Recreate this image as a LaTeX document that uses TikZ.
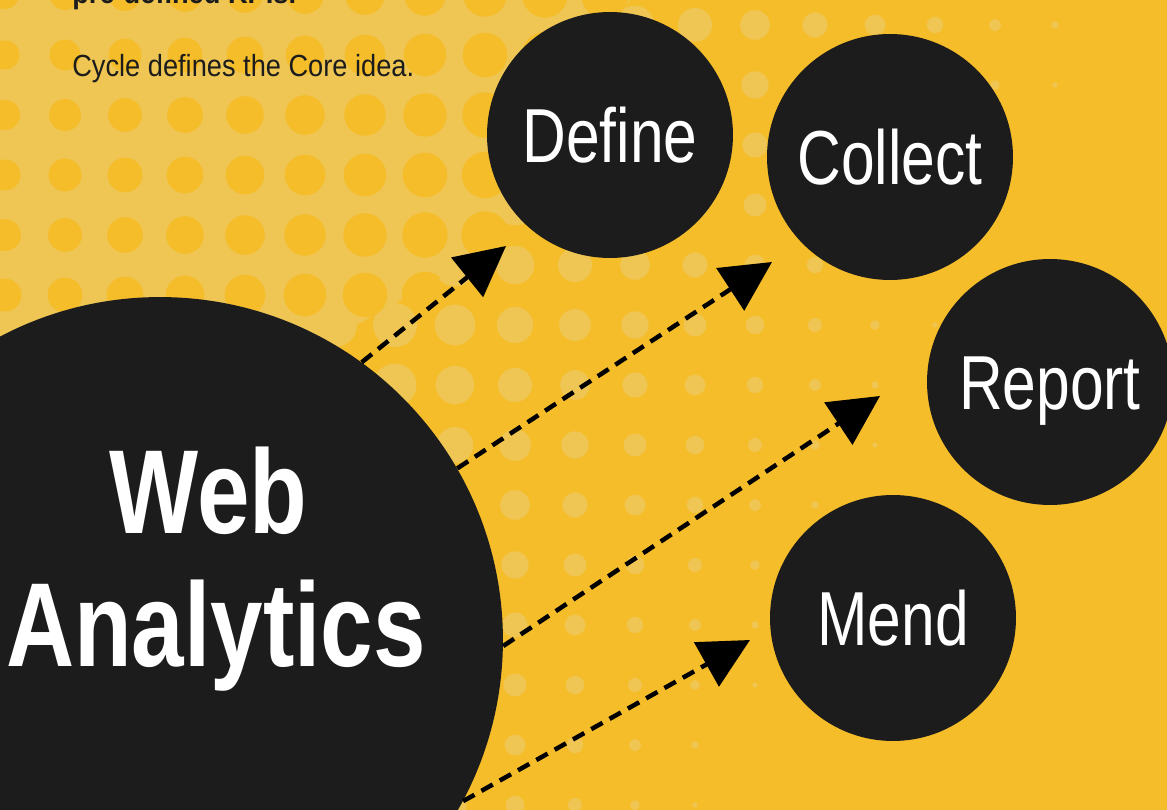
\documentclass[tikz,border=0pt]{standalone}
\usepackage{fontspec}
\setmainfont{Liberation Sans}
\newfontfamily\condfont{Liberation Sans}[FakeStretch=0.79]
\newfontfamily\notefont{Liberation Sans}[FakeStretch=0.89]
\usetikzlibrary{arrows.meta}
\definecolor{bgdark}{HTML}{F5BD29}
\definecolor{bglight}{HTML}{EFC654}
\definecolor{ink}{HTML}{1C1C1C}
\begin{document}
\begin{tikzpicture}[x=0.02cm, y=-0.02cm, line join=round,
	disc/.style={circle, fill=ink, minimum size=4.92cm, inner sep=0pt, text=white,
		text height=31pt, text depth=0pt, font=\condfont\fontsize{43.6}{48}\selectfont},
	bigdisc/.style={circle, fill=ink, minimum size=13.72cm, inner sep=0pt},
	flow/.style={black, line width=0.09cm, dash pattern=on 0.26cm off 0.16cm,
		-{Triangle[length=1cm,width=1cm]}}]
	\def\lightzone{(0,0) -- (630,0) -- (490,250) -- (330,340) -- (200,810) -- (0,810) -- cycle}
	\useasboundingbox (0,0) rectangle (1167,810);
	\clip (0,0) rectangle (1167,810);
	% halftone background
	\fill[bgdark] (0,0) rectangle (1167,810);
	\foreach \i in {0,...,19}{
		\foreach \j in {0,...,13}{
			\pgfmathsetmacro\v{35+60*\i+0.5*(25+60*\j)}
			\pgfmathsetmacro\s{min(22,21-0.037*(\v-600))}
			\ifdim\s pt>1.5pt \fill[bglight] (35+60*\i,25+60*\j) circle (\s); \fi
		}
	}
	\fill[bglight] \lightzone;
	\begin{scope}
		\clip \lightzone;
		\foreach \i in {0,...,11}{
			\foreach \j in {0,...,13}{
				\pgfmathsetmacro\r{14+0.016*(5+60*\i+0.5*(-5+60*\j))}
				\fill[bgdark] (5+60*\i,-5+60*\j) circle (\r);
			}
		}
	\end{scope}
	% notes
	\node[anchor=base west, inner sep=0pt, text=ink, font=\notefont\bfseries\fontsize{17.4}{20}\selectfont] (kpis) at (72,4) {pre-defined KPIs.};
	\node[anchor=base west, inner sep=0pt, text=ink, font=\notefont\fontsize{17.4}{20}\selectfont] (cycle) at (72,77) {Cycle defines the Core idea.};
	% circles
	\node[bigdisc] (web) at (160,640) {};
	\node[align=center, inner sep=0pt, text=white, font=\condfont\bfseries\fontsize{68}{76}\selectfont] (webtitle) at (216,569) {Web\hspace*{0.3cm}\\Analytics};
	\node[disc] (define) at (610,135) {Define};
	\node[disc] (collect) at (890,157) {Collect};
	\node[disc] (report) at (1050,382) {Report};
	\node[disc] (mend) at (893,618) {Mend};
	% arrows
	\coordinate (tipdef) at (506,246);
	\coordinate (tipcol) at (772,262);
	\coordinate (tiprep) at (880,396);
	\coordinate (tipmen) at (750,640);
	\draw[flow] (web.54) -- (tipdef);
	\draw[flow] (web.30) -- (tipcol);
	\draw[flow] (web.-1) -- (tiprep);
	\draw[flow] (web.-28) -- (tipmen);
\end{tikzpicture}
\end{document}
